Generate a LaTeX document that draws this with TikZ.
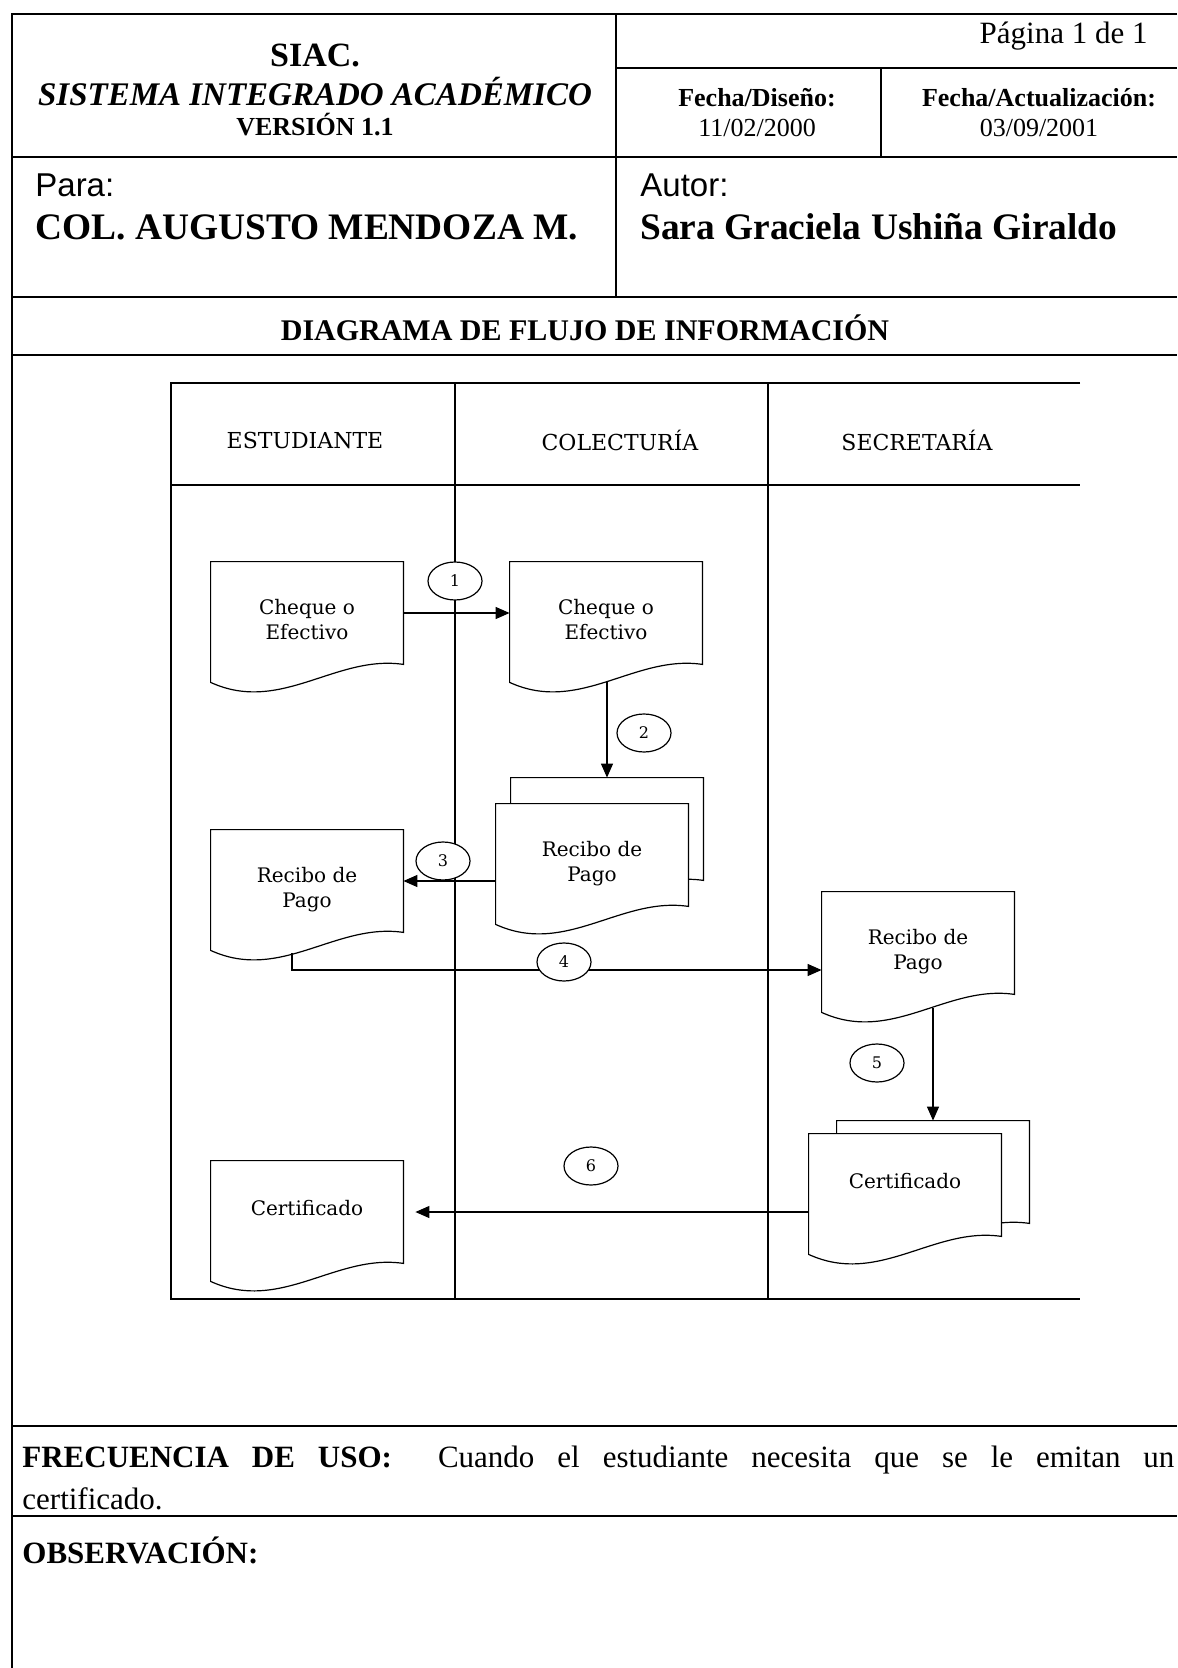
\documentclass[tikz,border=0pt]{standalone}
\usepackage{fontspec}
\setmainfont{Liberation Serif}
\setsansfont{Liberation Sans}
\newfontfamily\flowfont{DejaVu Serif}
\usetikzlibrary{arrows.meta,positioning,shapes.geometric,calc,backgrounds}

% outline of a document symbol (wavy bottom)
\newcommand{\docout}[1]{%
  \filldraw[docline] (#1.south east) -- (#1.north east) -- (#1.north west) -- ($(#1.south west)+(0,18)$)
    .. controls ($(#1.south west)+(70,50)$) and ($(#1.south west)+(125,-10)$) .. (#1.south east) -- cycle;}
% text inside a document, moved a little
\newcommand{\dtxt}[2][-7pt]{\raisebox{#1}[0pt][0pt]{\begin{tabular}{@{}c@{}}#2\end{tabular}}}

\begin{document}
\begin{tikzpicture}[x=0.5pt, y=-0.5pt,
    every node/.append style={inner sep=0pt},
    rule/.style={line width=0.6pt},
    lane/.style={line width=0.6pt},
    lanehead/.style={font=\flowfont\fontsize{11}{13}\selectfont},
    docbox/.style={rectangle, minimum width=96pt, minimum height=51pt, align=center, font=\flowfont\fontsize{10}{12.5}\selectfont},
    docline/.style={draw, fill=white, line width=0.6pt},
    num/.style={ellipse, draw, fill=white, line width=0.6pt, minimum width=27pt, minimum height=19pt, font=\flowfont\fontsize{8}{9}\selectfont},
    flow/.style={-{Triangle[length=7pt,width=6pt]}, line width=0.6pt}
]
    \useasboundingbox (0,0) rectangle (1177,1668);

    % page frame and header cells
    \draw[rule] (1177,14) -- (12,14) -- (12,1668);
    \draw[rule] (616,14) -- (616,297);
    \draw[rule] (616,68) -- (1177,68);
    \draw[rule] (881,68) -- (881,157);
    \foreach \y in {157,297,355,1426,1516}
        \draw[rule] (12,\y) -- (1177,\y);

    \node[font=\bfseries\fontsize{17}{20}\selectfont] (siac) at (315,55) {SIAC.};
    \node[font=\bfseries\itshape\fontsize{16.5}{20}\selectfont] (sistema) at (315,92) {SISTEMA INTEGRADO ACADÉMICO};
    \node[font=\bfseries\fontsize{13}{15}\selectfont] (version) at (315,125) {VERSIÓN 1.1};
    \node[anchor=east, font=\fontsize{15.5}{18}\selectfont] (pagina) at (1148,36) {Página 1 de 1};
    \node[align=center, font=\fontsize{13}{15}\selectfont] (fdiseno) at (757,113) {\textbf{Fecha/Diseño:}\\11/02/2000};
    \node[align=center, font=\fontsize{13}{15}\selectfont] (factual) at (1039,113) {\textbf{Fecha/Actualización:}\\03/09/2001};
    \node[anchor=west, font=\sffamily\fontsize{16.5}{19}\selectfont] (para) at (35,185) {Para:};
    \node[anchor=west, font=\bfseries\fontsize{18.7}{22}\selectfont] (destino) at (35,227) {COL. AUGUSTO MENDOZA M.};
    \node[anchor=west, font=\sffamily\fontsize{16.5}{19}\selectfont] (autor) at (640,185) {Autor:};
    \node[anchor=west, font=\bfseries\fontsize{18.7}{22}\selectfont] (nombre) at (640,227) {Sara Graciela Ushiña Giraldo};

    \node[font=\bfseries\fontsize{15}{18}\selectfont] (titulo) at (585,328) {DIAGRAMA DE FLUJO DE INFORMACIÓN};

    % swimlanes
    \draw[lane] (1080,383) -- (171,383) -- (171,1299) -- (1080,1299);
    \draw[lane] (171,485) -- (1080,485);
    \draw[lane] (455,383) -- (455,1299);
    \draw[lane] (768,383) -- (768,1299);
    \node[lanehead] (estud) at (305,440) {ESTUDIANTE};
    \node[lanehead] (colec) at (620,440) {COLECTURÍA};
    \node[lanehead] (secre) at (917,440) {SECRETARÍA};

    % documents
    \node[docbox] (cheqE) at (307,613) {\dtxt{Cheque o\\Efectivo}};
    \node[docbox] (cheqC) at (606,613) {\dtxt{Cheque o\\Efectivo}};
    \node[docbox] (reciboCb) at (607,829) {};
    \node[docbox] (reciboC) at (592,855) {\dtxt{Recibo de\\Pago}};
    \node[docbox] (reciboE) at (307,881) {\dtxt{Recibo de\\Pago}};
    \node[docbox] (reciboS) at (918,943) {\dtxt{Recibo de\\Pago}};
    \node[docbox] (certSb) at (933,1172) {};
    \node[docbox] (certS) at (905,1185) {\dtxt[-1.7pt]{Certificado}};
    \node[docbox] (certE) at (307,1212) {\dtxt[-1.7pt]{Certificado}};

    \begin{scope}[on background layer]
        \fill[white] (0,0) rectangle (1177,1668);
        \foreach \d in {cheqE,cheqC,reciboCb,reciboC,reciboE,reciboS,certSb,certS,certE}
            \docout{\d};
    \end{scope}

    % flows
    \draw[flow] (cheqE) -- (cheqC);
    \draw[flow] ($(reciboCb.north |- cheqC.south)+(0,18)$) -- (reciboCb.north);
    \draw[flow] (reciboC.west |- reciboE.east) -- (reciboE.east);
    \draw[flow] ($(reciboE.south)+(-15,21)$) |- ($(reciboS.west)+(0,27)$);
    \draw[flow] ($(certSb.north |- reciboS.south)+(0,14)$) -- (certSb.north);
    \draw[flow, shorten >=6pt] (certS.west |- certE.east) -- (certE.east);

    % step numbers
    \node[num] (n1) at (455,581) {1};
    \node[num] (n2) at (644,733) {2};
    \node[num] (n3) at (443,861) {3};
    \node[num] (n4) at (564,962) {4};
    \node[num] (n5) at (877,1063) {5};
    \node[num] (n6) at (591,1166) {6};

    % footer
    \node[anchor=north west, text width=576pt, align=justify, font=\fontsize{15.5}{21}\selectfont] (frecuencia) at (22,1446)
        {\noindent\textbf{FRECUENCIA DE USO:}\ \ Cuando el estudiante necesita que se le emitan un\linebreak certificado.};
    \node[anchor=west, font=\bfseries\fontsize{15.5}{18}\selectfont] (observ) at (22,1550) {OBSERVACIÓN:};
\end{tikzpicture}
\end{document}
